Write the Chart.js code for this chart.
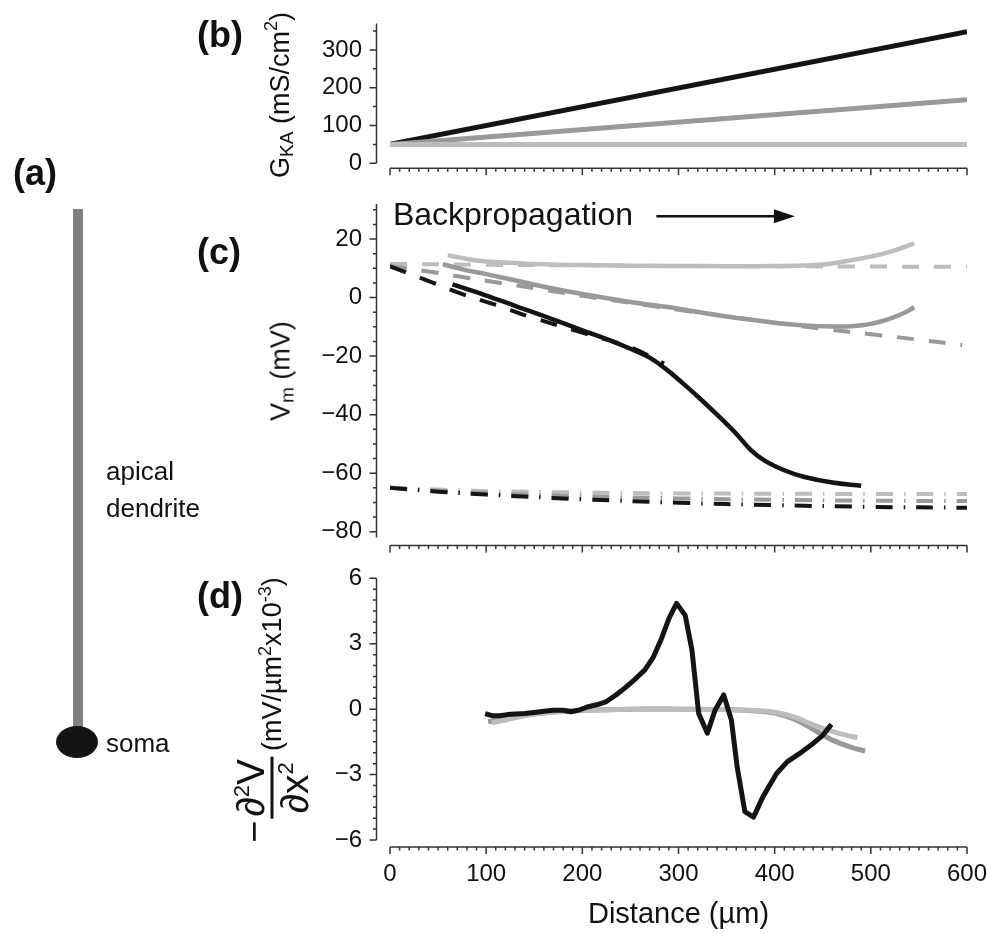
<!DOCTYPE html>
<html>
<head>
<meta charset="utf-8">
<script src="https://cdn.jsdelivr.net/npm/chart.js@4.4.1/dist/chart.umd.min.js"></script>
<style>
  body { margin: 0; background: #fff; font-family: "Liberation Sans", Arial, Helvetica, sans-serif; color: #111; }
  #fig { position: relative; width: 987px; height: 933px; overflow: hidden; }
  canvas { position: absolute; left: 0; }
  .lbl { position: absolute; font-weight: bold; font-size: 36px; line-height: 1; z-index: 2; }
  .txt { position: absolute; font-size: 26px; line-height: 37px; z-index: 2; }
  .ytitle { position: absolute; font-size: 27px; line-height: 1; white-space: nowrap; z-index: 2;
            transform: translate(-50%, -50%) rotate(-90deg); display: flex; align-items: center; }
  .sub { font-size: 19px; position: relative; top: 6px; }
  .sup { font-size: 18px; position: relative; top: -10px; }
  .frac { display: inline-flex; flex-direction: column; align-items: center; font-size: 39px; margin: 0 6px 0 2px; }
  .frac .num { border-bottom: 3px solid #111; padding: 0 2px 1px 2px; line-height: 1; }
  .frac .den { line-height: 1; padding-top: 1px; }
  .frac .sup { font-size: 22px; top: -15px; }
</style>
</head>
<body>
<div id="fig">
  <canvas id="chartB" width="987" height="190" style="top:0px"></canvas>
  <canvas id="chartC" width="987" height="370" style="top:190px"></canvas>
  <canvas id="chartD" width="987" height="373" style="top:560px"></canvas>

  <!-- (a) esquema de la neurona -->
  <div class="lbl" style="left:13px;top:155px">(a)</div>
  <div style="position:absolute;left:73px;top:209px;width:10px;height:525px;background:#808080"></div>
  <div style="position:absolute;left:56px;top:726px;width:42px;height:32px;border-radius:50%;background:#141414"></div>
  <div class="txt" style="left:106px;top:453px">apical<br>dendrite</div>
  <div class="txt" style="left:106px;top:725px">soma</div>

  <div class="lbl" style="left:197px;top:17px">(b)</div>
  <div class="lbl" style="left:197px;top:234px">(c)</div>
  <div class="lbl" style="left:197px;top:578px">(d)</div>

  <div class="ytitle" style="left:280px;top:95px">G<span class="sub">KA</span>&nbsp;(mS/cm<span class="sup">2</span>)</div>
  <div class="ytitle" style="left:281px;top:371px">V<span class="sub">m</span>&nbsp;(mV)</div>
  <div class="ytitle" style="left:272px;top:710px">
    <span style="font-size:38px;position:relative;top:-19px">&minus;</span>
    <span class="frac"><span class="num">&part;<span class="sup">2</span>V</span><span class="den">&part;x<span class="sup">2</span></span></span>
    <span>(mV/&micro;m<span class="sup">2</span>x10<span class="sup">-3</span>)</span>
  </div>
</div>

<script>
// ---- (b) G_KA a lo largo de la dendrita ----
const gkaDist = [0, 600];
const gkaSteep = [50, 348];
const gkaMid = [50, 168];
const gkaFlat = [50, 50];

// ---- (c) Vm pico, activo (solido) y pasivo (rayas) ----
const vLightX = [60, 80, 100, 150, 200, 300, 400, 450, 480, 500, 520, 545];
const vLight = [14.5, 13.2, 12.3, 11.5, 11.1, 10.8, 10.8, 11.3, 12.8, 14.0, 15.6, 18.5];
const vMidX = [55, 80, 100, 130, 160, 200, 250, 300, 350, 400, 430, 460, 480, 500, 520, 535, 545];
const vMid = [11.4, 9.3, 8.0, 5.9, 3.7, 1.2, -1.5, -3.8, -6.5, -8.6, -9.5, -9.9, -9.8, -9.0, -7.2, -5.2, -3.3];
const vDarkX = [65, 100, 130, 160, 200, 230, 250, 270, 290, 300, 320, 340, 360, 375, 390, 410, 430, 460, 490];
const vDark = [4.5, 0.7, -2.8, -6.3, -11.2, -14.8, -17.5, -20.5, -25.2, -28, -33.8, -40, -46.5, -52, -55.8, -59, -61.2, -63.2, -64.3];

const pLightX = [0, 100, 200, 300, 400, 500, 600];
const pLight = [11.5, 11.2, 11.0, 10.8, 10.7, 10.6, 10.5];
const pMidX = [0, 40, 80, 115, 150, 200, 250, 300, 350, 400, 450, 500, 550, 595];
const pMid = [10.8, 8.9, 6.8, 5.0, 3.2, 0.6, -1.8, -4.2, -6.4, -8.6, -10.7, -12.5, -14.4, -16.2];
const pDarkX = [0, 45, 76, 111, 144, 200, 250, 285];
const pDark = [10.7, 5.0, 1.1, -2.6, -6.4, -12.0, -17.0, -22.5];

// reposo (punto y raya)
const restX = [0, 50, 100, 200, 300, 400, 500, 600];
const restLight = [-65, -65.6, -66.1, -66.6, -66.9, -67.0, -67.1, -67.1];
const restMid = [-65, -66.0, -66.8, -67.9, -68.6, -69.1, -69.4, -69.5];
const restDark = [-65, -66.3, -67.3, -68.9, -70.1, -70.9, -71.5, -71.8];

// ---- (d) -d2V/dx2 ----
const dDarkX = [99, 106, 114, 122, 130, 140, 150, 160, 170, 180, 188, 196, 205, 215, 225, 235, 245, 255, 265, 274, 282, 290, 298, 307, 314, 321, 330, 338, 347, 355, 361, 369, 378, 388, 402, 413, 426, 440, 450, 459];
const dDark = [-0.2, -0.3, -0.3, -0.25, -0.22, -0.2, -0.15, -0.1, -0.05, -0.05, -0.12, -0.05, 0.1, 0.2, 0.35, 0.65, 1.0, 1.38, 1.8, 2.4, 3.2, 4.15, 4.85, 4.3, 2.7, -0.2, -1.1, -0.05, 0.65, -0.5, -2.65, -4.7, -4.95, -4.0, -2.95, -2.42, -2.03, -1.57, -1.2, -0.7];
const dMidX = [102, 120, 140, 160, 180, 200, 250, 300, 350, 380, 400, 420, 440, 460, 480, 494];
const dMid = [-0.58, -0.42, -0.28, -0.17, -0.1, -0.05, 0, 0, -0.02, -0.08, -0.18, -0.45, -0.92, -1.42, -1.75, -1.92];
const dLightX = [106, 120, 140, 160, 180, 200, 250, 300, 350, 380, 400, 420, 440, 460, 475, 486];
const dLight = [-0.62, -0.5, -0.3, -0.18, -0.1, -0.05, 0, 0, -0.02, -0.06, -0.14, -0.35, -0.72, -1.02, -1.2, -1.3];

// anotacion
const arrowLabel = 'Backpropagation';
const labelAt = [3, 24.7];
const arrowFrom = 277, arrowTo = 421, arrowY = 27.8;

const BLACK = '#141414', MID = '#999999', LIGHT = '#bdbdbd';
const FONT = '"Liberation Sans", Arial, Helvetica, sans-serif';
Chart.defaults.font.family = FONT;
Chart.defaults.color = '#111';

function pts(xs, ys) {
  return xs.map((x, i) => ({ x: x, y: ys[i] }));
}

function serie(xs, ys, color, width, dash, tension) {
  return {
    data: pts(xs, ys),
    borderColor: color,
    borderWidth: width,
    borderDash: dash || [],
    pointRadius: 0,
    tension: tension || 0,
    borderJoinStyle: 'round',
    fill: false
  };
}

// ejes separados (estilo "despine") con marcas menores
const despine = {
  id: 'despine',
  afterDraw(chart, args, o) {
    const { ctx, chartArea: ca, scales: { x, y } } = chart;
    ctx.save();
    ctx.strokeStyle = '#333';
    ctx.lineWidth = 1.5;
    const yx = ca.left - o.yGap;
    const xy = ca.bottom + o.xGap;
    ctx.beginPath();
    ctx.moveTo(yx, y.getPixelForValue(y.min));
    ctx.lineTo(yx, y.getPixelForValue(y.max));
    ctx.moveTo(x.getPixelForValue(x.min), xy);
    ctx.lineTo(x.getPixelForValue(x.max), xy);
    for (let k = 0; ; k++) {
      const v = o.yFirst + k * o.yMinor;
      if (v > y.max + 1e-9) break;
      const r = v / o.yMajor;
      const major = Math.abs(r - Math.round(r)) < 1e-6;
      const py = y.getPixelForValue(v);
      ctx.moveTo(yx, py);
      ctx.lineTo(yx - (major ? 7 : 3.5), py);
    }
    for (let v = 0; v <= 600; v += 10) {
      const px = x.getPixelForValue(v);
      ctx.moveTo(px, xy);
      ctx.lineTo(px, xy + (v % 100 === 0 ? 7 : 3.5));
    }
    ctx.stroke();
    ctx.restore();
  }
};

const backprop = {
  id: 'backprop',
  afterDatasetsDraw(chart) {
    const { ctx, scales: { x, y } } = chart;
    ctx.save();
    ctx.fillStyle = '#111';
    ctx.font = '32px ' + FONT;
    ctx.textBaseline = 'alphabetic';
    ctx.fillText(arrowLabel, x.getPixelForValue(labelAt[0]), y.getPixelForValue(labelAt[1]));
    const x0 = x.getPixelForValue(arrowFrom);
    const x1 = x.getPixelForValue(arrowTo);
    const ay = y.getPixelForValue(arrowY);
    ctx.strokeStyle = '#111';
    ctx.lineWidth = 2.5;
    ctx.beginPath();
    ctx.moveTo(x0, ay);
    ctx.lineTo(x1 - 16, ay);
    ctx.stroke();
    ctx.beginPath();
    ctx.moveTo(x1, ay);
    ctx.lineTo(x1 - 21, ay - 7);
    ctx.lineTo(x1 - 21, ay + 7);
    ctx.closePath();
    ctx.fill();
    ctx.restore();
  }
};

function minus(v) {
  return String(v).replace('-', '\u2212');
}

function opciones(p) {
  return {
    responsive: false,
    animation: false,
    layout: { padding: { top: p.top, right: 20, bottom: 0, left: 0 } },
    plugins: {
      legend: { display: false },
      tooltip: { enabled: false },
      despine: p.despine
    },
    scales: {
      x: {
        type: 'linear',
        min: 0,
        max: 600,
        grid: { display: false, drawTicks: false },
        border: { display: false },
        ticks: { display: !!p.xLabels, stepSize: 100, padding: 20, font: { size: 24 }, color: '#111' },
        title: p.xLabels ? { display: true, text: 'Distance (\u00b5m)', font: { size: 29 }, color: '#111', padding: { top: 0, bottom: 1 } } : { display: false },
        afterFit: (s) => { s.height = p.xHeight; s.paddingLeft = 0; s.paddingRight = 0; }
      },
      y: {
        min: p.yMin,
        max: p.yMax,
        grid: { display: false, drawTicks: false },
        border: { display: false },
        ticks: {
          stepSize: p.yStep,
          includeBounds: false,
          padding: 28,
          font: { size: 24 },
          color: '#111',
          callback: (v) => minus(v)
        },
        afterFit: (s) => { s.width = 390; s.paddingTop = 0; s.paddingBottom = 0; }
      }
    }
  };
}

function crearGraficaB() {
  new Chart(document.getElementById('chartB'), {
    type: 'line',
    data: {
      datasets: [
        serie(gkaDist, gkaFlat, LIGHT, 5),
        serie(gkaDist, gkaMid, MID, 5),
        serie(gkaDist, gkaSteep, BLACK, 5)
      ]
    },
    options: opciones({
      top: 23.5, xHeight: 26.7, yMin: 0, yMax: 370, yStep: 100,
      despine: { yGap: 13.5, xGap: 5, yFirst: 0, yMinor: 50, yMajor: 100 }
    }),
    plugins: [despine]
  });
}

function crearGraficaC() {
  new Chart(document.getElementById('chartC'), {
    type: 'line',
    data: {
      datasets: [
        serie(vDarkX, vDark, BLACK, 4.5, null, 0.4),
        serie(vMidX, vMid, MID, 4.5, null, 0.4),
        serie(vLightX, vLight, LIGHT, 4.5, null, 0.4),
        serie(pDarkX, pDark, BLACK, 4, [17, 15], 0.4),
        serie(pMidX, pMid, MID, 4, [17, 15], 0.4),
        serie(pLightX, pLight, LIGHT, 4, [17, 15], 0.4),
        serie(restX, restDark, BLACK, 4, [17, 11, 1.5, 11], 0.4),
        serie(restX, restMid, MID, 4, [17, 11, 1.5, 11], 0.4),
        serie(restX, restLight, LIGHT, 4, [17, 11, 1.5, 11], 0.4)
      ]
    },
    options: opciones({
      top: 13.9, xHeight: 22.4, yMin: -82, yMax: 32, yStep: 20,
      despine: { yGap: 13.5, xGap: 8, yFirst: -80, yMinor: 5, yMajor: 20 }
    }),
    plugins: [despine, backprop]
  });
}

function crearGraficaD() {
  new Chart(document.getElementById('chartD'), {
    type: 'line',
    data: {
      datasets: [
        serie(dDarkX, dDark, BLACK, 5),
        serie(dLightX, dLight, LIGHT, 5, null, 0.4),
        serie(dMidX, dMid, MID, 5, null, 0.4)
      ]
    },
    options: opciones({
      top: 18.3, xHeight: 93, yMin: -6, yMax: 6, yStep: 3, xLabels: true,
      despine: { yGap: 13.5, xGap: 7, yFirst: -6, yMinor: 0.5, yMajor: 3 }
    }),
    plugins: [despine]
  });
}

crearGraficaB();
crearGraficaC();
crearGraficaD();
</script>
</body>
</html>
